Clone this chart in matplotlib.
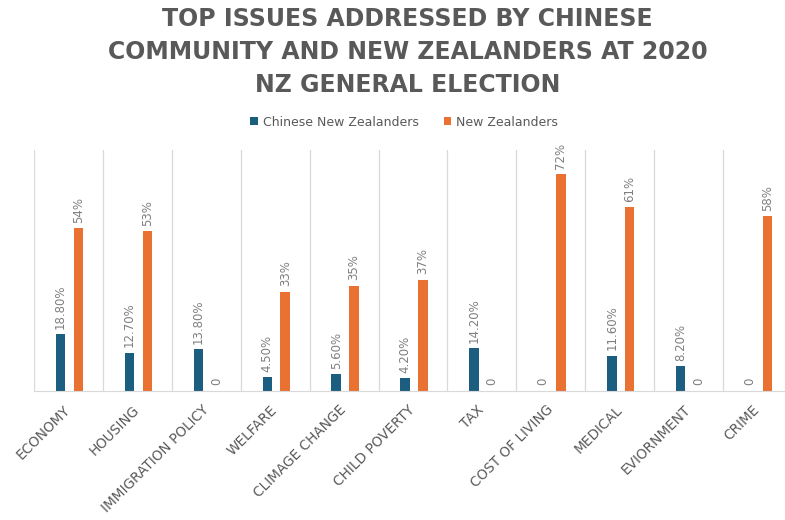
import matplotlib.pyplot as plt
import numpy as np

categories = ["ECONOMY", "HOUSING", "IMMIGRATION POLICY", "WELFARE", "CLIMAGE CHANGE",
              "CHILD POVERTY", "TAX", "COST OF LIVING", "MEDICAL", "EVIORNMENT", "CRIME"]
chinese_nz = [18.8, 12.7, 13.8, 4.5, 5.6, 4.2, 14.2, 0, 11.6, 8.2, 0]
all_nz = [54, 53, 0, 33, 35, 37, 0, 72, 61, 0, 58]
chinese_labels = ["18.80%", "12.70%", "13.80%", "4.50%", "5.60%", "4.20%", "14.20%",
                  "0", "11.60%", "8.20%", "0"]
nz_labels = ["54%", "53%", "0", "33%", "35%", "37%", "0", "72%", "61%", "0", "58%"]

blue = "#1B5E80"
orange = "#E97132"
text_grey = "#595959"
label_grey = "#7F7F7F"

fig = plt.figure(figsize=(7.85, 5.2), dpi=100)
# axes runs slightly past the right edge of the canvas
ax = fig.add_axes([34 / 785, 1 - 391 / 520, (792 - 34) / 785, (391 - 150) / 520])

x = np.arange(len(categories))
w = 0.138
b1 = ax.bar(x - 0.115, chinese_nz, w, color=blue, label="Chinese New Zealanders")
b2 = ax.bar(x + 0.145, all_nz, w, color=orange, label="New Zealanders")

for bars, labels in ((b1, chinese_labels), (b2, nz_labels)):
    for rect, lab in zip(bars, labels):
        ax.annotate(lab, (rect.get_x() + rect.get_width() / 2, rect.get_height()),
                    xytext=(0, 4), textcoords="offset points", rotation=90,
                    ha="center", va="bottom", fontsize=8.5, color=label_grey)

ax.set_xlim(-0.5, len(categories) - 0.5)
ax.set_ylim(0, 80)
ax.set_yticks([])
for b in np.arange(-0.5, len(categories), 1.0):
    ax.axvline(b, color="#D9D9D9", lw=0.9, zorder=0)
for s in ("left", "right", "top"):
    ax.spines[s].set_visible(False)
ax.spines["bottom"].set_color("#D9D9D9")

ax.set_xticks(x)
ax.set_xticklabels(categories, rotation=45, ha="right", va="center",
                   rotation_mode="anchor", fontsize=9.8, color=text_grey)
ax.tick_params(axis="x", length=0, pad=12)

fig.text(0.519, 0.9, "TOP ISSUES ADDRESSED BY CHINESE\nCOMMUNITY AND NEW ZEALANDERS AT 2020\nNZ GENERAL ELECTION",
         ha="center", va="center", fontsize=17, fontweight="bold", color=text_grey,
         linespacing=1.5)

fig.legend(handles=[b1, b2], loc="center", bbox_to_anchor=(0.515, 0.765), ncol=2,
           frameon=False, fontsize=9, labelcolor=text_grey, handlelength=0.6,
           handleheight=0.6, handletextpad=0.4, columnspacing=2.0)

fig.savefig("out.png", dpi=100)
